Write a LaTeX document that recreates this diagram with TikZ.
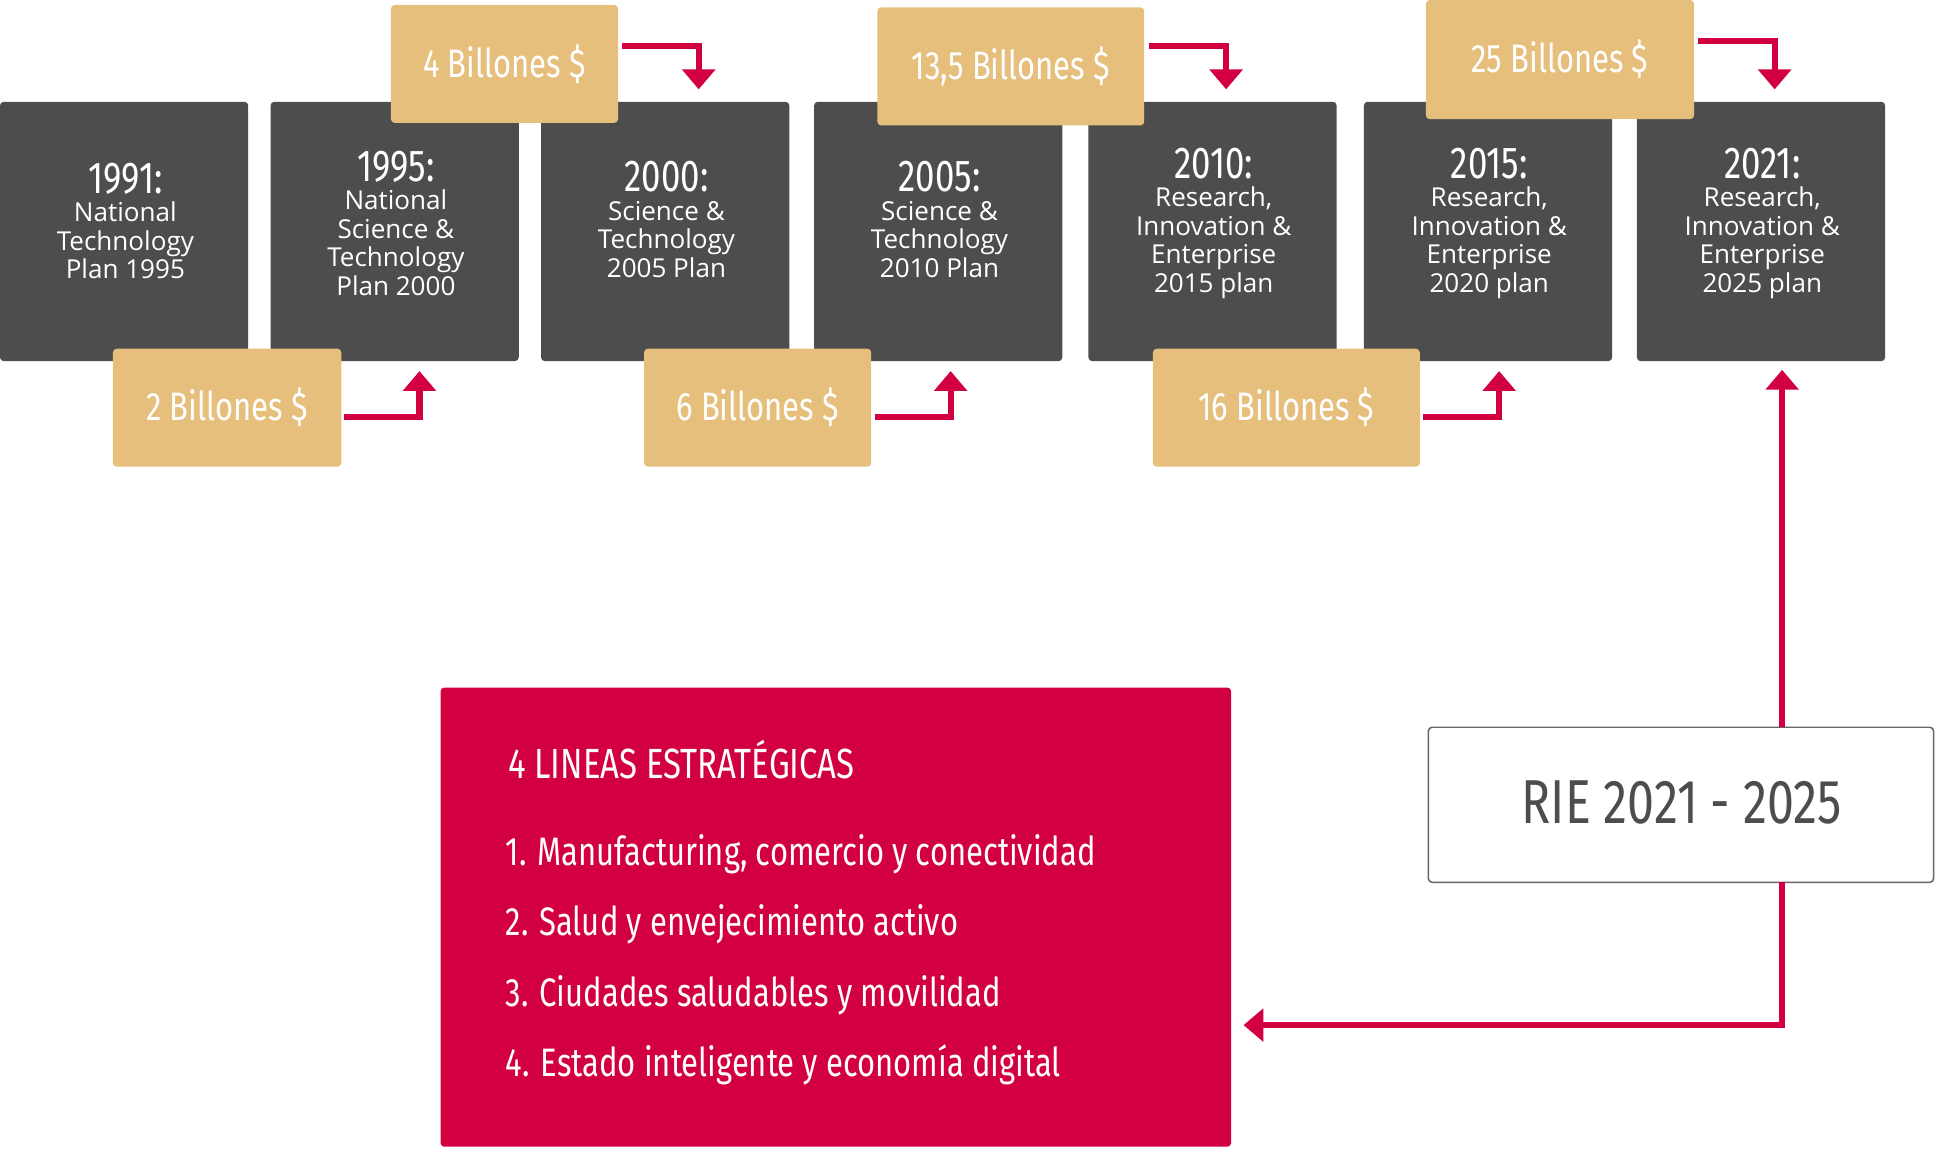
\documentclass[tikz,border=0pt]{standalone}
\usepackage{fontspec}
\setmainfont{Open Sans}
\newfontfamily\cond[FakeStretch=0.78]{Fira Sans}
\usetikzlibrary{arrows.meta}
\definecolor{gbox}{HTML}{4D4D4D}
\definecolor{gold}{HTML}{E6BF7D}
\definecolor{crim}{HTML}{D20040}
\tikzset{
 plan/.style={fill=gbox,rounded corners=3pt,draw=none},
 gld/.style={fill=gold,rounded corners=3pt,draw=none},
 ptxt/.style={text=white,align=center,font=\fontsize{21}{23}\selectfont},
 btxt/.style={text=white,font=\cond\fontsize{32}{34}\selectfont},
 rarr/.style={crim,line width=5pt,-{Triangle[length=16pt,width=26pt]}},
}
\newcommand{\yr}[1]{{\cond\fontsize{36}{34}\selectfont #1}}
\begin{document}
\begin{tikzpicture}[x=1pt,y=-1pt]
\useasboundingbox (0,0) rectangle (1560,945);
% plan boxes
\foreach \n/\xa/\yy/\t in {a/0/178/{\yr{1991:}\\National\\Technology\\Plan 1995},
  b/218/180/{\yr{1995:}\\National\\Science \&\\Technology\\Plan 2000},
  c/436/177/{\yr{2000:}\\Science \&\\Technology\\2005 Plan},
  d/656/177/{\yr{2005:}\\Science \&\\Technology\\2010 Plan},
  e/877/180/{\yr{2010:}\\Research,\\Innovation \&\\Enterprise\\2015 plan},
  f/1099/180/{\yr{2015:}\\Research,\\Innovation \&\\Enterprise\\2020 plan},
  g/1319/180/{\yr{2021:}\\Research,\\Innovation \&\\Enterprise\\2025 plan}}{
  \fill[plan] (\xa,82) rectangle ++(200,209);
  \node[ptxt] (p\n) at (\xa+101,\yy) {\t};
}
% gold boxes
\foreach \n/\xa/\xb/\ya/\yb/\t in {t1/315/498/4/99/{4 Billones \$},t2/707/922/6/101/{13,5 Billones \$},t3/1149/1365/0/96/{25 Billones \$},
 b1/91/275/281/376/{2 Billones \$},b2/519/702/281/376/{6 Billones \$},b3/929/1144/281/376/{16 Billones \$}}{
  \fill[gld] (\xa,\ya) rectangle (\xb,\yb);
  \node[btxt] (\n) at ({(\xa+\xb)/2},{(\ya+\yb)/2}) {\t};
}
% top arrows
\foreach \xa/\xb/\y in {501/563/37,926/988/37,1368/1430/33}{
  \coordinate (s) at (\xa,\y); \coordinate (e) at (\xb,72);
  \draw[rarr] (s) -| (e);
}
\foreach \xa/\xb in {277/338,705/766,1147/1208}{
  \coordinate (s) at (\xa,336); \coordinate (e) at (\xb,299);
  \draw[rarr] (s) -| (e);
}
% red box
\fill[crim,rounded corners=3pt] (355,554) rectangle (992,924);
\node[anchor=west,text=white,font=\cond\fontsize{34}{36}\selectfont] (tl) at (406,612) {4 LINEAS ESTRATÉGICAS};
\foreach \i/\y/\t in {1/688/{1. Manufacturing, comercio y conectividad},2/745/{2. Salud y envejecimiento activo},3/802/{3. Ciudades saludables y movilidad},4/858/{4. Estado inteligente y economía digital}}{
  \node[anchor=west,text=white,font=\cond\fontsize{32}{34}\selectfont] (l\i) at (404,\y) {\t};
}
% RIE box
\draw[gray!80!black,line width=1.2pt,rounded corners=3pt,fill=white] (1151,586) rectangle (1558,711);
\node[text=gbox,font=\cond\fontsize{50}{52}\selectfont] (rie) at (1355,647) {RIE 2021 - 2025};
\coordinate (rt) at (1436,586);
\coordinate (gt) at (1436,298);
\draw[rarr] (rt) -- (gt);
\coordinate (rb) at (1436,711);
\coordinate (lb) at (1002,826);
\draw[rarr] (rb) |- (lb);
\end{tikzpicture}
\end{document}
